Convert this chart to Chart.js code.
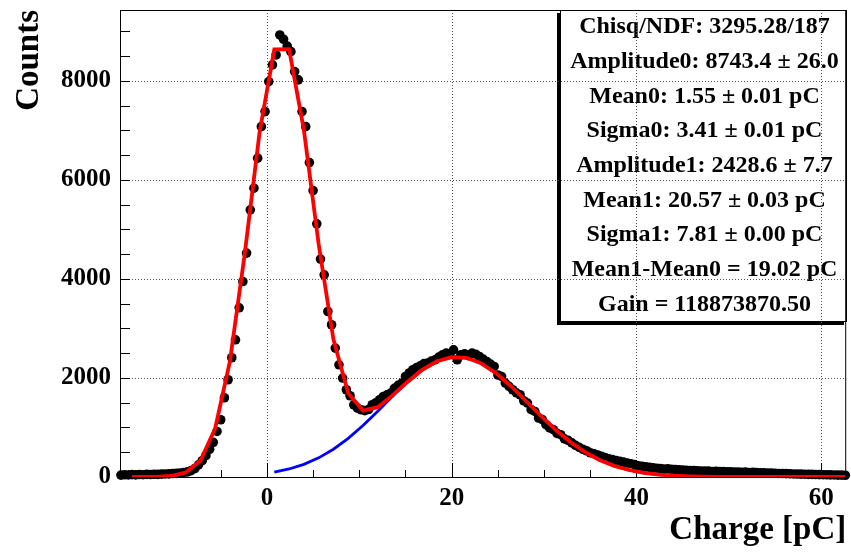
<!DOCTYPE html>
<html><head><meta charset="utf-8">
<script src="https://cdn.jsdelivr.net/npm/chart.js@4.4.1/dist/chart.umd.min.js"></script>
<style>html,body{margin:0;padding:0;background:#fff;}#wrap{width:851px;height:553px;}</style>
</head><body><div id="wrap"><canvas id="c" width="851" height="553"></canvas></div>
<script>
// ---- data ----
const binCenters = [-15.8,-15.4,-15.0,-14.6,-14.2,-13.8,-13.4,-13.0,-12.6,-12.2,-11.8,-11.4,-11.0,-10.6,-10.2,-9.8,-9.4,-9.0,-8.6,-8.2,-7.8,-7.4,-7.0,-6.6,-6.2,-5.8,-5.4,-5.0,-4.6,-4.2,-3.8,-3.4,-3.0,-2.6,-2.2,-1.8,-1.4,-1.0,-0.6,-0.2,0.2,0.6,1.0,1.4,1.8,2.2,2.6,3.0,3.4,3.8,4.2,4.6,5.0,5.4,5.8,6.2,6.6,7.0,7.4,7.8,8.2,8.6,9.0,9.4,9.8,10.2,10.6,11.0,11.4,11.8,12.2,12.6,13.0,13.4,13.8,14.2,14.6,15.0,15.4,15.8,16.2,16.6,17.0,17.4,17.8,18.2,18.6,19.0,19.4,19.8,20.2,20.6,21.0,21.4,21.8,22.2,22.6,23.0,23.4,23.8,24.2,24.6,25.0,25.4,25.8,26.2,26.6,27.0,27.4,27.8,28.2,28.6,29.0,29.4,29.8,30.2,30.6,31.0,31.4,31.8,32.2,32.6,33.0,33.4,33.8,34.2,34.6,35.0,35.4,35.8,36.2,36.6,37.0,37.4,37.8,38.2,38.6,39.0,39.4,39.8,40.2,40.6,41.0,41.4,41.8,42.2,42.6,43.0,43.4,43.8,44.2,44.6,45.0,45.4,45.8,46.2,46.6,47.0,47.4,47.8,48.2,48.6,49.0,49.4,49.8,50.2,50.6,51.0,51.4,51.8,52.2,52.6,53.0,53.4,53.8,54.2,54.6,55.0,55.4,55.8,56.2,56.6,57.0,57.4,57.8,58.2,58.6,59.0,59.4,59.8,60.2,60.6,61.0,61.4,61.8,62.2,62.6];
const counts = [38,44,41,47,43,50,46,52,49,55,
53,58,61,64,70,74,82,90,104,128,
172,245,330,430,560,700,920,1156,1600,1964,
2408,2771,3417,3947,4521,5394,5832,6438,7075,7378,
7984,8321,8522,8926,8839,8700,8589,8186,8020,7380,
7075,6350,5784,5112,4400,4083,3342,3074,2603,2266,
1998,1762,1641,1458,1390,1358,1340,1362,1459,1500,
1560,1627,1660,1695,1790,1850,1897,2030,2100,2166,
2210,2246,2290,2300,2340,2367,2420,2468,2502,2480,
2569,2367,2468,2488,2450,2502,2480,2434,2380,2333,
2280,2232,2060,2030,1897,1830,1762,1700,1661,1540,
1493,1360,1324,1191,1160,1056,990,955,880,854,
770,740,690,640,600,560,530,490,470,445,
420,395,370,350,330,315,300,282,268,250,
225,215,205,195,185,178,172,160,165,155,
150,145,140,135,130,132,125,122,118,120,
112,115,108,110,104,106,100,102,96,98,
92,94,88,86,84,80,78,76,72,70,
68,66,62,60,58,56,54,52,50,48,
46,45,42,41,38,37,35];
// total fit curve (red)
const fitX = [-14.6,-13.6,-12.0,-10.4,-8.8,-7.2,-5.6,-4.0,-2.4,-0.8,0.8,2.4,4.0,5.6,7.2,8.8,10.4,12.0,13.6,15.2,16.8,18.4,20.0,21.6,23.2,24.8,26.4,28.0,29.6,31.2,32.8,34.4,36.0,37.6,39.2,40.8,42.4,44.0,45.6,47.2,48.8,50.4,52.0,53.6,55.2,56.8,58.4,60.0,61.6,62.6];
const fitY = [0,1,4,20,89,329,980,2341,4502,6952,8633,8637,7010,4706,2777,1692,1341,1410,1648,1920,2162,2337,2422,2407,2295,2097,1838,1545,1245,962,713,506,345,225,141,85,49,27,14,7,3,2,1,0,0,0,0,0,0,0];
// second peak component (blue)
const peak1X = [0.8,2.4,4.0,5.6,7.2,8.8,10.4,12.0,13.6,15.2,16.8,18.4,20.0,21.6,23.2,24.8,26.4,28.0,29.6,31.2,32.8,34.4,36.0,37.6,39.2,40.8,42.4,44.0,45.6,47.2,48.8,50.4,52.0,53.6,55.2,56.8,58.4,60.0,61.6,62.6];
const peak1Y = [99,162,256,387,561,780,1040,1330,1631,1917,2162,2337,2422,2407,2295,2097,1838,1545,1245,962,713,506,345,225,141,85,49,27,14,7,3,2,1,0,0,0,0,0,0,0];
const xMajorTicks = [0,20,40,60];
const xMinorTicks = [-15,-10,-5,5,10,15,25,30,35,45,50,55];
const yMajorTicks = [0,2000,4000,6000,8000];
const yMinorTicks = [500,1000,1500,2500,3000,3500,4500,5000,5500,6500,7000,7500,8500,9000];
const statsLines = [
  "Chisq/NDF: 3295.28/187",
  "Amplitude0: 8743.4 \u00b1 26.0",
  "Mean0: 1.55 \u00b1 0.01 pC",
  "Sigma0: 3.41 \u00b1 0.01 pC",
  "Amplitude1: 2428.6 \u00b1 7.7",
  "Mean1: 20.57 \u00b1 0.03 pC",
  "Sigma1: 7.81 \u00b1 0.00 pC",
  "Mean1-Mean0 = 19.02 pC",
  "Gain = 118873870.50"
];

const SERIF = "'Liberation Serif', 'Times New Roman', serif";

const statsBox = {
  id: 'statsBox',
  beforeDraw(chart) {
    const ctx = chart.ctx;
    const x0 = 560, y0 = 10, x1 = 847, y1 = 322;
    ctx.save();
    ctx.fillStyle = '#000';
    ctx.fillRect(x0 - 3, y0 + 3, x1 - x0, y1 - y0);
    ctx.fillStyle = '#fff';
    ctx.fillRect(x0, y0, x1 - x0, y1 - y0);
    ctx.strokeStyle = '#000';
    ctx.lineWidth = 1;
    ctx.strokeRect(x0 + 0.5, y0 + 0.5, x1 - x0 - 1, y1 - y0 - 1);
    ctx.fillStyle = '#000';
    ctx.font = 'bold 24px ' + SERIF;
    ctx.textAlign = 'center';
    ctx.textBaseline = 'alphabetic';
    const step = (y1 - y0) / statsLines.length;
    statsLines.forEach((t, i) => {
      ctx.fillText(t, (x0 + x1) / 2 + 1, y0 + step * (i + 0.5) + 6);
    });
    ctx.restore();
  }
};

const frameGrid = {
  id: 'frameGrid',
  beforeDatasetsDraw(chart) {
    const {ctx, chartArea: a, scales: {x, y}} = chart;
    ctx.save();
    ctx.lineWidth = 1;
    ctx.strokeStyle = '#555';
    ctx.setLineDash([1, 2]);
    xMajorTicks.forEach(v => {
      const px = Math.round(x.getPixelForValue(v)) + 0.5;
      ctx.beginPath(); ctx.moveTo(px, a.top); ctx.lineTo(px, a.bottom); ctx.stroke();
    });
    yMajorTicks.forEach(v => {
      if (v === 0) return;
      const py = Math.round(y.getPixelForValue(v)) + 0.5;
      ctx.beginPath(); ctx.moveTo(a.left, py); ctx.lineTo(a.right, py); ctx.stroke();
    });
    ctx.setLineDash([]);
    ctx.strokeStyle = '#000';
    ctx.strokeRect(a.left + 0.5, a.top + 0.5, a.right - a.left - 1, a.bottom - a.top);
    const tick = (px, len) => { ctx.beginPath(); ctx.moveTo(px, a.bottom); ctx.lineTo(px, a.bottom - len); ctx.stroke(); };
    xMajorTicks.forEach(v => tick(Math.round(x.getPixelForValue(v)) + 0.5, 14));
    xMinorTicks.forEach(v => tick(Math.round(x.getPixelForValue(v)) + 0.5, 7));
    const ytick = (py, len) => { ctx.beginPath(); ctx.moveTo(a.left, py); ctx.lineTo(a.left + len, py); ctx.stroke(); };
    yMajorTicks.forEach(v => ytick(Math.round(y.getPixelForValue(v)) + 0.5, 10));
    yMinorTicks.forEach(v => ytick(Math.round(y.getPixelForValue(v)) + 0.5, 10));
    ctx.restore();
  }
};

const noPad = s => { s.paddingTop = 0; s.paddingBottom = 0; s.paddingLeft = 0; s.paddingRight = 0; };

new Chart(document.getElementById('c'), {
  type: 'scatter',
  data: {
    datasets: [
      { label: 'data', data: binCenters.map((v, i) => ({x: v, y: counts[i]})),
        pointRadius: 4.8, pointBackgroundColor: '#000', pointBorderColor: '#000', pointBorderWidth: 0,
        showLine: false, order: 3, clip: false },
      { label: 'peak1', data: peak1X.map((v, i) => ({x: v, y: peak1Y[i]})),
        showLine: true, borderColor: '#0000ff', borderWidth: 2.8, pointRadius: 0, tension: 0, order: 2 },
      { label: 'fit', data: fitX.map((v, i) => ({x: v, y: fitY[i]})),
        showLine: true, borderColor: '#ff0000', borderWidth: 3.8, pointRadius: 0, tension: 0, order: 1 }
    ]
  },
  options: {
    responsive: false, animation: false, devicePixelRatio: 1, events: [],
    layout: { padding: { top: 10, right: 3, left: 0, bottom: 0 } },
    plugins: { legend: { display: false }, tooltip: { enabled: false } },
    scales: {
      x: {
        type: 'linear', min: -15.9, max: 62.7,
        afterBuildTicks: s => { s.ticks = xMajorTicks.map(v => ({value: v})); },
        afterFit: s => { s.height = 76; noPad(s); },
        grid: { display: false, drawTicks: false },
        border: { display: false },
        ticks: { color: '#000', padding: 7, maxRotation: 0, autoSkip: false,
                 callback: v => String(v),
                 font: { family: SERIF, size: 25, weight: 'bold' } },
        title: { display: true, text: 'Charge [pC]', align: 'end', color: '#000',
                 font: { family: SERIF, size: 33, weight: 'bold' }, padding: { top: 0, bottom: 3 } }
      },
      y: {
        type: 'linear', min: 0, max: 9430,
        afterBuildTicks: s => { s.ticks = yMajorTicks.map(v => ({value: v})); },
        afterFit: s => { s.width = 120; noPad(s); },
        grid: { display: false, drawTicks: false },
        border: { display: false },
        ticks: { color: '#000', padding: 9,
                 callback: v => String(v),
                 font: { family: SERIF, size: 25, weight: 'bold' } },
        title: { display: true, text: 'Counts', align: 'end', color: '#000',
                 font: { family: SERIF, size: 33, weight: 'bold' }, padding: { top: 10, bottom: 0 } }
      }
    }
  },
  plugins: [statsBox, frameGrid]
});
</script></body></html>
